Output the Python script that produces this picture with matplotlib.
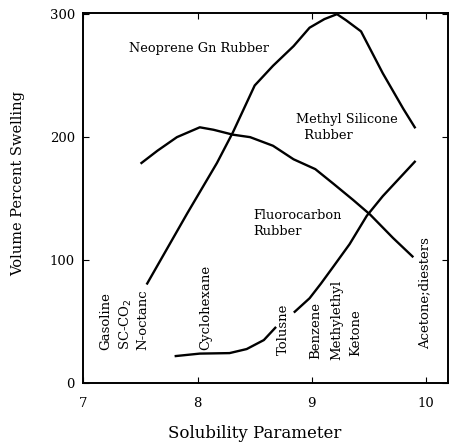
import matplotlib
matplotlib.use("Agg")
import matplotlib.pyplot as plt
import numpy as np

plt.rcParams['font.family'] = ['DejaVu Serif']

# Neoprene Gn Rubber
neo_x = [7.56, 7.91, 8.17, 8.31, 8.50, 8.66, 8.84, 8.98, 9.11, 9.22, 9.30, 9.43, 9.62, 9.80, 9.90]
neo_y = [81, 138, 179, 204, 242, 258, 274, 289, 296, 300, 295, 286, 252, 223, 208]

# Methyl Silicone Rubber
sil_x = [7.51, 7.65, 7.82, 8.02, 8.14, 8.31, 8.46, 8.66, 8.84, 9.03, 9.19, 9.36, 9.51, 9.71, 9.88]
sil_y = [179, 189, 200, 208, 206, 202, 200, 193, 182, 174, 162, 149, 137, 118, 103]

# Fluorocarbon Rubber (gap near Tolusne label)
flu_x = [7.81, 8.02, 8.28, 8.43, 8.58, 8.68, 8.76, 8.85, 8.98, 9.08, 9.19, 9.33, 9.48, 9.62, 9.80, 9.90]
flu_y = [22, 24, 24.4, 27.7, 35, 45, np.nan, 58, 69, 81, 95, 113, 136, 152, 170, 180]

solvents = ["Gasoline", "SC-CO$_2$", "N-octanc", "Cyclohexane", "Tolusne",
            "Benzene", "Methylethyl", "Ketone", "Acetone;diesters"]
solvent_x = [7.20, 7.37, 7.52, 8.07, 8.75, 9.03, 9.22, 9.38, 9.99]
solvent_y = [27, 27, 27, 27, 23, 20, 19, 22, 28]

fig = plt.figure(figsize=(4.52, 4.46), dpi=100)
ax = fig.add_axes([0.184, 0.141, 0.807, 0.83])

for xs, ys in [(neo_x, neo_y), (sil_x, sil_y), (flu_x, flu_y)]:
    ax.plot(xs, ys, color='black', lw=1.7)

ax.text(7.40, 272, "Neoprene Gn Rubber", fontsize=9.3, va='center')
ax.text(8.86, 208, "Methyl Silicone\n  Rubber", fontsize=9.3, va='center', linespacing=1.3)
ax.text(8.49, 130, "Fluorocarbon\nRubber", fontsize=9.3, va='center', linespacing=1.3)

for name, x, y in zip(solvents, solvent_x, solvent_y):
    ax.text(x, y, name, rotation=90, fontsize=9.5, ha='center', va='bottom')

ax.set_xlim(7, 10.19)
ax.set_ylim(0, 301)
ax.set_xticks([7, 8, 9, 10])
ax.set_yticks([0, 100, 200, 300])
ax.tick_params(direction='in', length=4, top=True, right=True, labelsize=9.5)
ax.tick_params(axis='x', pad=10)
ax.tick_params(axis='y', pad=6)
for s in ax.spines.values():
    s.set_linewidth(1.4)

ax.set_xlabel("Solubility Parameter", fontsize=12)
ax.set_ylabel("Volume Percent Swelling", fontsize=10.5)
ax.xaxis.set_label_coords(0.47, -0.112)
ax.yaxis.set_label_coords(-0.159, 0.54)

fig.savefig("out.png", dpi=100)
